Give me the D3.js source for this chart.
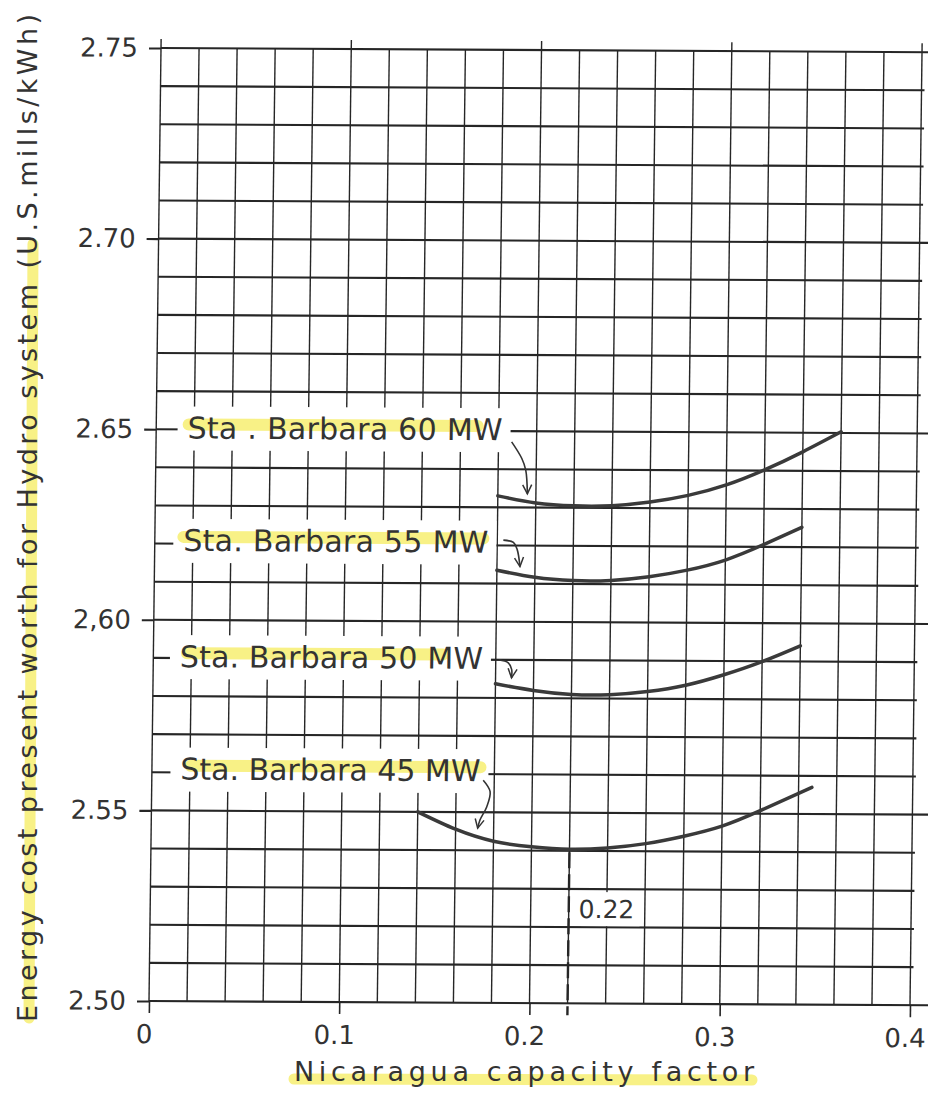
<!DOCTYPE html>
<html><head><meta charset="utf-8">
<script src="https://cdn.jsdelivr.net/npm/d3@7"></script>
<style>
html,body{margin:0;padding:0;background:#fff;}
svg{display:block;font-family:"DejaVu Sans",sans-serif;}
</style></head><body>
<svg id="chart" width="928" height="1097"></svg>
<script>
// ---------- data ----------
const xTickValues = [0, 0.1, 0.2, 0.3, 0.4];
const xTickLabels = ["0", "0.1", "0.2", "0.3", "0.4"];
const yTickValues = [2.50, 2.55, 2.60, 2.65, 2.70, 2.75];
const yTickLabels = ["2.50", "2.55", "2,60", "2.65", "2.70", "2.75"];

const seriesNames = ["Sta . Barbara 60 MW", "Sta. Barbara 55 MW", "Sta. Barbara 50 MW", "Sta. Barbara 45 MW"];

const cf60 = [0.18, 0.20, 0.22, 0.24, 0.26, 0.28, 0.30, 0.32, 0.34, 0.36];
const pw60 = [2.6330, 2.6312, 2.6305, 2.6306, 2.6316, 2.6334, 2.6362, 2.6402, 2.6450, 2.6503];
const cf55 = [0.18, 0.20, 0.22, 0.24, 0.26, 0.28, 0.30, 0.32, 0.34];
const pw55 = [2.6135, 2.6117, 2.6109, 2.6110, 2.6120, 2.6138, 2.6165, 2.6206, 2.6252];
const cf50 = [0.18, 0.20, 0.22, 0.24, 0.26, 0.28, 0.30, 0.32, 0.34];
const pw50 = [2.5837, 2.5820, 2.5810, 2.5810, 2.5819, 2.5836, 2.5864, 2.5899, 2.5941];
const cf45 = [0.14, 0.16, 0.18, 0.20, 0.22, 0.24, 0.26, 0.28, 0.30, 0.32, 0.347];
const pw45 = [2.5500, 2.5455, 2.5424, 2.5410, 2.5404, 2.5408, 2.5420, 2.5440, 2.5467, 2.5508, 2.5570];

// label anchor (capacity factor, worth) for each series label
const labelCF = [0.0165, 0.015, 0.014, 0.015];
const labelPW = [2.6505, 2.6210, 2.5905, 2.5610];

// leader arrows (capacity factor, worth)
const arrow60 = [[0.1869, 2.6472], [0.1923, 2.6429], [0.1945, 2.6398], [0.1955, 2.6336]];
const arrow55 = [[0.1832, 2.6214], [0.1885, 2.6208], [0.1905, 2.6190], [0.1921, 2.6145]];
const arrow50 = [[0.1815, 2.5900], [0.1866, 2.5892], [0.1884, 2.5875], [0.1884, 2.5853]];
const arrow45 = [[0.1742, 2.5584], [0.1779, 2.5554], [0.1762, 2.5514], [0.1728, 2.5480], [0.1716, 2.5458]];

const optimumCF = 0.22;
const optimumPW = 2.5404;
const optimumLabel = "0.22";

const xTitle = "Nicaragua capacity factor";
const yTitle = "Energy cost present worth for Hydro system (U.S.mills/kWh)";

// ---------- layout ----------
const svg = d3.select("#chart");
const ink = "#262626";
const textInk = "#333";
const hlColor = "#f8f07a";

const x = d3.scaleLinear().domain([0, 0.4]).range([149, 910]);
const y = d3.scaleLinear().domain([2.5, 2.75]).range([1001, 48]);

// slight skew of the scanned sheet
const k = 0.0126, s = 0.0055, u0 = 149, v0 = 1001;

// titles (not skewed)
const titles = svg.append("g");
titles.append("line")
  .attr("x1", 29).attr("y1", 1018).attr("x2", 33).attr("y2", 244)
  .attr("stroke", hlColor).attr("stroke-width", 11).attr("stroke-linecap", "round").attr("opacity", 0.9);
titles.append("line")
  .attr("x1", 294).attr("y1", 1079).attr("x2", 752).attr("y2", 1080)
  .attr("stroke", hlColor).attr("stroke-width", 11).attr("stroke-linecap", "round").attr("opacity", 0.9);
titles.append("text")
  .attr("transform", "translate(37,1022) rotate(-90)")
  .attr("font-size", 27).attr("fill", textInk)
  .attr("textLength", 1008).attr("lengthAdjust", "spacing")
  .text(yTitle);
titles.append("text")
  .attr("x", 294).attr("y", 1081)
  .attr("font-size", 27).attr("fill", textInk)
  .attr("textLength", 460).attr("lengthAdjust", "spacing")
  .text(xTitle);

const g = svg.append("g")
  .attr("transform", `matrix(1,${s},${-k},1,${k * v0},${-s * u0})`);

// grid
const hGrid = d3.range(0, 26).map(i => +(2.5 + i * 0.01).toFixed(2));
const vGrid = d3.range(0, 21).map(i => +(i * 0.02).toFixed(2));
const isMajorY = v => Math.round(v * 100) % 5 === 0;
const isMajorX = v => Math.round(v * 100) % 10 === 0;

g.append("g").selectAll("line").data(vGrid).join("line")
  .attr("x1", d => x(d)).attr("x2", d => x(d))
  .attr("y1", d => isMajorX(d) ? y(2.75) - 9 : y(2.75))
  .attr("y2", y(2.5))
  .attr("stroke", ink).attr("stroke-width", 1.4);

g.append("g").selectAll("line").data(hGrid).join("line")
  .attr("x1", x(0))
  .attr("x2", d => isMajorY(d) ? x(0.4) + 40 : x(0.4) + 3)
  .attr("y1", d => y(d)).attr("y2", d => y(d))
  .attr("stroke", ink).attr("stroke-width", 2.1);

// axes (ticks + labels)
const ax = g.append("g").attr("transform", `translate(0,${y(2.5)})`)
  .call(d3.axisBottom(x).tickValues(xTickValues).tickSize(12).tickPadding(11.5)
    .tickFormat((d, i) => xTickLabels[i]));
const ay = g.append("g").attr("transform", `translate(${x(0)},0)`)
  .call(d3.axisLeft(y).tickValues(yTickValues).tickSize(12).tickPadding(11)
    .tickFormat((d, i) => yTickLabels[i]));
[ax, ay].forEach(a => {
  a.select(".domain").remove();
  a.selectAll("text").attr("font-size", 26).attr("fill", textInk).attr("font-family", "DejaVu Sans, sans-serif");
});
ax.selectAll("line").attr("stroke", ink).attr("stroke-width", 1.6);
ax.selectAll("text").attr("dx", -5);
ay.selectAll("line").attr("stroke", ink).attr("stroke-width", 2.1);

// series labels with white knock-out boxes and highlighter
const labelLen = [315, 305, 303, 300];
const hlStart = [1, 0, 7, 10];
const hlLen = [289, 300, 256, 290];
const labs = g.append("g");
seriesNames.forEach((name, i) => {
  const lx = x(labelCF[i]), ly = y(labelPW[i]);
  labs.append("rect")
    .attr("x", lx - 10).attr("y", ly - 21)
    .attr("width", labelLen[i] + 18).attr("height", 44)
    .attr("fill", "#fff");
  labs.append("line")
    .attr("x1", lx + hlStart[i]).attr("x2", lx + hlStart[i] + hlLen[i])
    .attr("y1", ly - 3).attr("y2", ly - 3)
    .attr("stroke", hlColor).attr("stroke-width", 12)
    .attr("stroke-linecap", "round").attr("opacity", 0.9);
  labs.append("text")
    .attr("x", lx).attr("y", ly + 11)
    .attr("font-size", 30).attr("fill", textInk)
    .attr("textLength", labelLen[i]).attr("lengthAdjust", "spacing")
    .text(name);
});

// optimum marker
g.append("line")
  .attr("x1", x(optimumCF)).attr("x2", x(optimumCF))
  .attr("y1", y(optimumPW) + 3).attr("y2", y(2.5) + 12)
  .attr("stroke", ink).attr("stroke-width", 2.4)
  .attr("stroke-dasharray", "16,6");
const ox = x(optimumCF) + 10, oy = y(2.5224);
g.append("rect")
  .attr("x", ox - 5).attr("y", oy - 26).attr("width", 66).attr("height", 34)
  .attr("fill", "#fff");
g.append("text")
  .attr("x", ox).attr("y", oy)
  .attr("font-size", 25).attr("fill", textInk)
  .text(optimumLabel);

// curves
const line = d3.line().x(d => x(d[0])).y(d => y(d[1])).curve(d3.curveNatural);
const series = [
  d3.zip(cf60, pw60), d3.zip(cf55, pw55), d3.zip(cf50, pw50), d3.zip(cf45, pw45)
];
g.append("g").selectAll("path").data(series).join("path")
  .attr("d", line)
  .attr("fill", "none").attr("stroke", "#3a3a3a")
  .attr("stroke-width", 3.5).attr("stroke-linecap", "round");

// arrows
const defs = svg.append("defs");
defs.append("marker")
  .attr("id", "ah").attr("viewBox", "-12 -7 14 14")
  .attr("refX", 0).attr("refY", 0)
  .attr("markerWidth", 14).attr("markerHeight", 14)
  .attr("markerUnits", "userSpaceOnUse").attr("orient", "auto")
  .append("path").attr("d", "M-9,-4.5 L0,0 L-9,4.5")
  .attr("fill", "none").attr("stroke", "#333").attr("stroke-width", 1.5);
const aline = d3.line().x(d => x(d[0])).y(d => y(d[1])).curve(d3.curveCatmullRom.alpha(0.5));
g.append("g").selectAll("path").data([arrow60, arrow55, arrow50, arrow45]).join("path")
  .attr("d", aline)
  .attr("fill", "none").attr("stroke", "#333").attr("stroke-width", 1.6)
  .attr("marker-end", "url(#ah)");
</script>
</body></html>
